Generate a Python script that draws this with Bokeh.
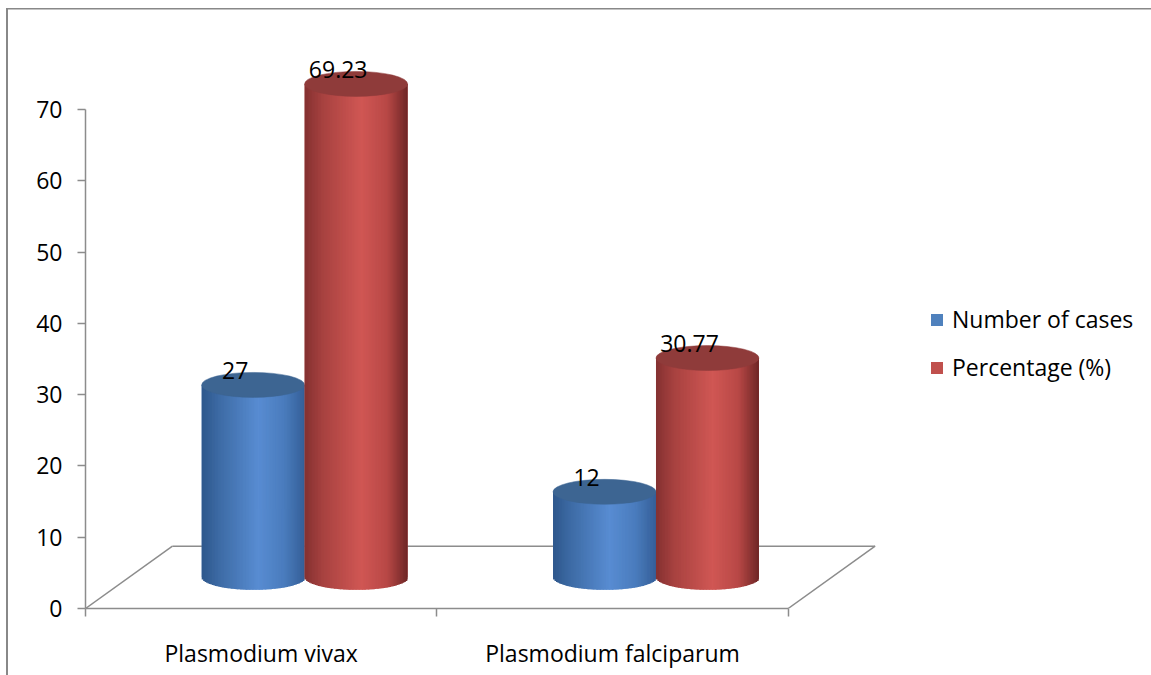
import numpy as np
from bokeh.plotting import figure
from bokeh.models import (ColumnDataSource, FixedTicker, Legend, LegendItem,
                          LinearAxis, Range1d)
from bokeh.core.properties import value
from bokeh.embed import file_html
from bokeh.resources import INLINE

# ---- data -------------------------------------------------------------
categories = ["Plasmodium vivax", "Plasmodium falciparum"]
series_names = ["Number of cases", "Percentage (%)"]
number_of_cases = [27, 12]
percentage = [69.23, 30.77]
y_ticks = [0, 10, 20, 30, 40, 50, 60, 70]

# ---- style ------------------------------------------------------------
FONT = "Open Sans"
FONT_SIZE = "23px"
GRID_GREY = "#8c8c8c"
legend_colors = ["#4f81bd", "#c0504d"]
top_colors = ["#3d6592", "#8f3b3a"]
# horizontal shading across each cylinder (position 0 = left edge, 1 = right edge)
side_shading = [
    [(0.0, "#2e578c"), (0.18, "#3e6ca6"), (0.55, "#588cd2"), (0.8, "#4a7cbd"), (1.0, "#355f98")],
    [(0.0, "#843131"), (0.18, "#a84240"), (0.55, "#d05754"), (0.8, "#b84846"), (1.0, "#6e2626")],
]

# 3D projection of the floor / column depth (in data units)
DEPTH_X = 0.2475
DEPTH_Y = 8.74
R_X = 0.1465      # cylinder radius along x
R_Y = 1.75        # cylinder ellipse half height along y
N_STRIPS = 70

n_cat = len(categories)

p = figure(width=1151, height=675,
           x_range=Range1d(0, 3.0), y_range=Range1d(0, 83.2),
           x_axis_type=None, y_axis_type=None,
           min_border_left=85, min_border_right=12,
           min_border_top=15, min_border_bottom=67,
           output_backend="svg", toolbar_location=None)
p.outline_line_color = None
p.background_fill_color = "white"
p.border_fill_alpha = 0
p.styles = {
    "background-color": "white",
    "background-image": "linear-gradient(#888888, #888888), linear-gradient(#888888, #888888)",
    "background-size": "2px 700px, 1200px 1.5px",
    "background-position": "6px 8px, 6px 8px",
    "background-repeat": "no-repeat",
}

# ---- axes ---------------------------------------------------------------
yaxis = LinearAxis(ticker=FixedTicker(ticks=y_ticks), bounds=(0, y_ticks[-1]))
yaxis.axis_line_color = GRID_GREY
yaxis.axis_line_width = 1.5
yaxis.major_tick_line_color = GRID_GREY
yaxis.major_tick_line_width = 1.5
yaxis.major_tick_out = 8
yaxis.major_tick_in = 0
yaxis.minor_tick_line_color = None
yaxis.major_label_text_font = FONT
yaxis.major_label_text_font_size = FONT_SIZE
yaxis.major_label_text_color = "black"
yaxis.major_label_standoff = 15
p.add_layout(yaxis, "left")

cat_centers = [i + 0.5 for i in range(n_cat)]
cat_bounds = list(range(n_cat + 1))
xaxis = LinearAxis(ticker=FixedTicker(ticks=cat_centers, minor_ticks=cat_bounds),
                   bounds=(0, n_cat))
xaxis.major_label_overrides = {c: name for c, name in zip(cat_centers, categories)}
xaxis.axis_line_color = GRID_GREY
xaxis.axis_line_width = 1.5
xaxis.major_tick_line_color = None
xaxis.major_tick_out = 0
xaxis.major_tick_in = 0
xaxis.minor_tick_line_color = GRID_GREY
xaxis.minor_tick_line_width = 1.5
xaxis.minor_tick_out = 8
xaxis.minor_tick_in = 0
xaxis.major_label_text_font = FONT
xaxis.major_label_text_font_size = FONT_SIZE
xaxis.major_label_text_color = "black"
xaxis.major_label_standoff = 20
p.add_layout(xaxis, "below")

# ---- floor (back edge and side edges) -----------------------------------
p.segment(x0=[DEPTH_X, 0, n_cat], y0=[DEPTH_Y, 0, 0],
          x1=[n_cat + DEPTH_X, DEPTH_X, n_cat + DEPTH_X], y1=[DEPTH_Y, DEPTH_Y, DEPTH_Y],
          line_color=GRID_GREY, line_width=1.5)


def shade(stops, u):
    pos = [s[0] for s in stops]
    rgb = np.array([[int(s[1][k:k + 2], 16) for k in (1, 3, 5)] for s in stops], dtype=float)
    cols = []
    for uu in u:
        c = [int(round(np.interp(uu, pos, rgb[:, k]))) for k in range(3)]
        cols.append("#%02x%02x%02x" % tuple(c))
    return cols


# ---- cylinders ------------------------------------------------------------
all_series = [number_of_cases, percentage]
base = DEPTH_Y / 2
label_x, label_y, label_txt = [], [], []
legend_renderers = []
for si, vals in enumerate(all_series):
    body = dict(left=[], right=[], top=[], bottom=[])
    strips = dict(left=[], right=[], top=[], bottom=[], color=[])
    tops = dict(x=[], y=[])
    for ci, v in enumerate(vals):
        cx = ci + 0.5 + (si - 0.5) * 2 * R_X + DEPTH_X / 2
        top = v + base
        body["left"].append(cx - R_X)
        body["right"].append(cx + R_X)
        body["top"].append(top)
        body["bottom"].append(base)
        u = (np.arange(N_STRIPS) + 0.5) / N_STRIPS
        step = 2 * R_X / N_STRIPS
        left = cx - R_X + np.arange(N_STRIPS) * step
        # each strip overlaps the next one slightly so no seams appear
        right = np.minimum(left + step * 1.8, cx + R_X)
        strips["left"] += list(left)
        strips["right"] += list(right)
        strips["top"] += [top] * N_STRIPS
        strips["bottom"] += list(base - R_Y * np.sqrt(1 - (2 * u - 1) ** 2))
        strips["color"] += shade(side_shading[si], u)
        tops["x"].append(cx)
        tops["y"].append(top)
        label_x.append(cx - 0.051)
        label_y.append(top + R_Y + 0.3)
        label_txt.append(f"{v:g}")
    # solid body underneath the shaded strips (also used as legend swatch)
    legend_renderers.append(
        p.quad(left="left", right="right", top="top", bottom="bottom",
               fill_color=legend_colors[si], line_color=None,
               source=ColumnDataSource(body)))
    p.quad(left="left", right="right", top="top", bottom="bottom",
           fill_color="color", line_color=None,
           source=ColumnDataSource(strips))
    p.ellipse(x="x", y="y", width=2 * R_X, height=2 * R_Y,
              fill_color=top_colors[si], line_color=top_colors[si], line_width=0.5,
              source=ColumnDataSource(tops))

p.text(x=label_x, y=label_y, text=label_txt, text_align="center",
       text_baseline="middle", text_font=value(FONT), text_font_size=FONT_SIZE,
       text_color="black")

# ---- legend -----------------------------------------------------------------
items = [LegendItem(label=name, renderers=[r])
         for name, r in zip(series_names, legend_renderers)]
legend = Legend(items=items, location=(844, 225), orientation="vertical",
                glyph_width=15, glyph_height=15, label_standoff=8, spacing=16,
                padding=0, margin=0, border_line_color=None, background_fill_alpha=0,
                label_text_font=FONT, label_text_font_size=FONT_SIZE,
                label_text_color="black")
p.add_layout(legend)

open("out.html", "w").write(file_html(p, INLINE))
